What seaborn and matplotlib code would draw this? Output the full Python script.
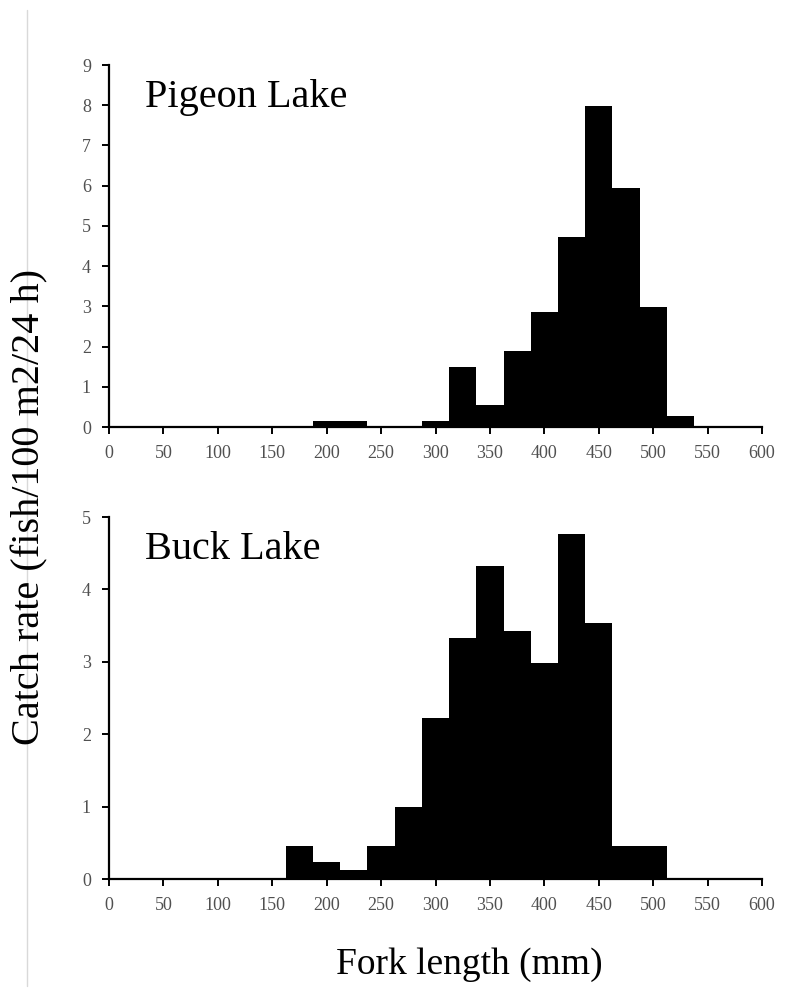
import matplotlib
matplotlib.use('Agg')
import matplotlib.pyplot as plt
from matplotlib.lines import Line2D
import seaborn as sns
import pandas as pd

# bin centres (mm) and catch rates
pigeon_len = [200, 225, 300, 325, 350, 375, 400, 425, 450, 475, 500, 525]
pigeon_rate = [0.15, 0.15, 0.15, 1.5, 0.55, 1.9, 2.85, 4.72, 7.98, 5.95, 2.98, 0.27]

buck_len = [175, 200, 225, 250, 275, 300, 325, 350, 375, 400, 425, 450, 475, 500]
buck_rate = [0.45, 0.23, 0.12, 0.45, 1.0, 2.22, 3.33, 4.32, 3.43, 2.98, 4.76, 3.54, 0.45, 0.45]

x_ticks = list(range(0, 601, 50))

sns.set_style('ticks')
plt.rcParams['font.family'] = ['Liberation Serif', 'DejaVu Serif']
plt.rcParams['text.color'] = 'black'
plt.rcParams['axes.edgecolor'] = 'black'

fig = plt.figure(figsize=(7.85, 9.91), dpi=100)
ax1 = fig.add_axes([109 / 785, 1 - 427 / 991, 653 / 785, 362 / 991])
ax2 = fig.add_axes([109 / 785, 1 - 879 / 991, 653 / 785, 362 / 991])

panels = [(ax1, pigeon_len, pigeon_rate, 9, 'Pigeon Lake'),
          (ax2, buck_len, buck_rate, 5, 'Buck Lake')]

for ax, lens, rates, ymax, name in panels:
    df = pd.DataFrame({'length': lens, 'rate': rates})
    sns.histplot(data=df, x='length', weights='rate', binwidth=25,
                 binrange=(-12.5, 612.5), color='black', alpha=1,
                 edgecolor='black', linewidth=0, ax=ax)
    ax.set_xlim(0, 600)
    ax.set_ylim(0, ymax)
    ax.set_xticks(x_ticks)
    ax.set_yticks(range(0, ymax + 1))
    ax.set_xlabel('')
    ax.set_ylabel('')
    sns.despine(ax=ax)
    for s in ['left', 'bottom']:
        ax.spines[s].set_linewidth(1.6)
    ax.tick_params(axis='both', length=5, width=1.4, labelsize=13,
                   color='black', labelcolor='#505050', pad=8)
    ax.text(0.055, 0.885, name, transform=ax.transAxes, fontsize=29,
            color='black')

fig.text(336 / 785, 1 - 965 / 991, 'Fork length (mm)', fontsize=27,
         ha='left', va='center')
fig.text(30 / 785, 1 - 507 / 991, 'Catch rate (fish/100 m2/24 h)', fontsize=29,
         rotation=90, ha='center', va='center')

# faint page edge on the left
fig.add_artist(Line2D([27 / 785, 27 / 785], [0.005, 0.99], color='#d9d9d9',
                      linewidth=1, transform=fig.transFigure))

fig.savefig('out.png', dpi=100)
